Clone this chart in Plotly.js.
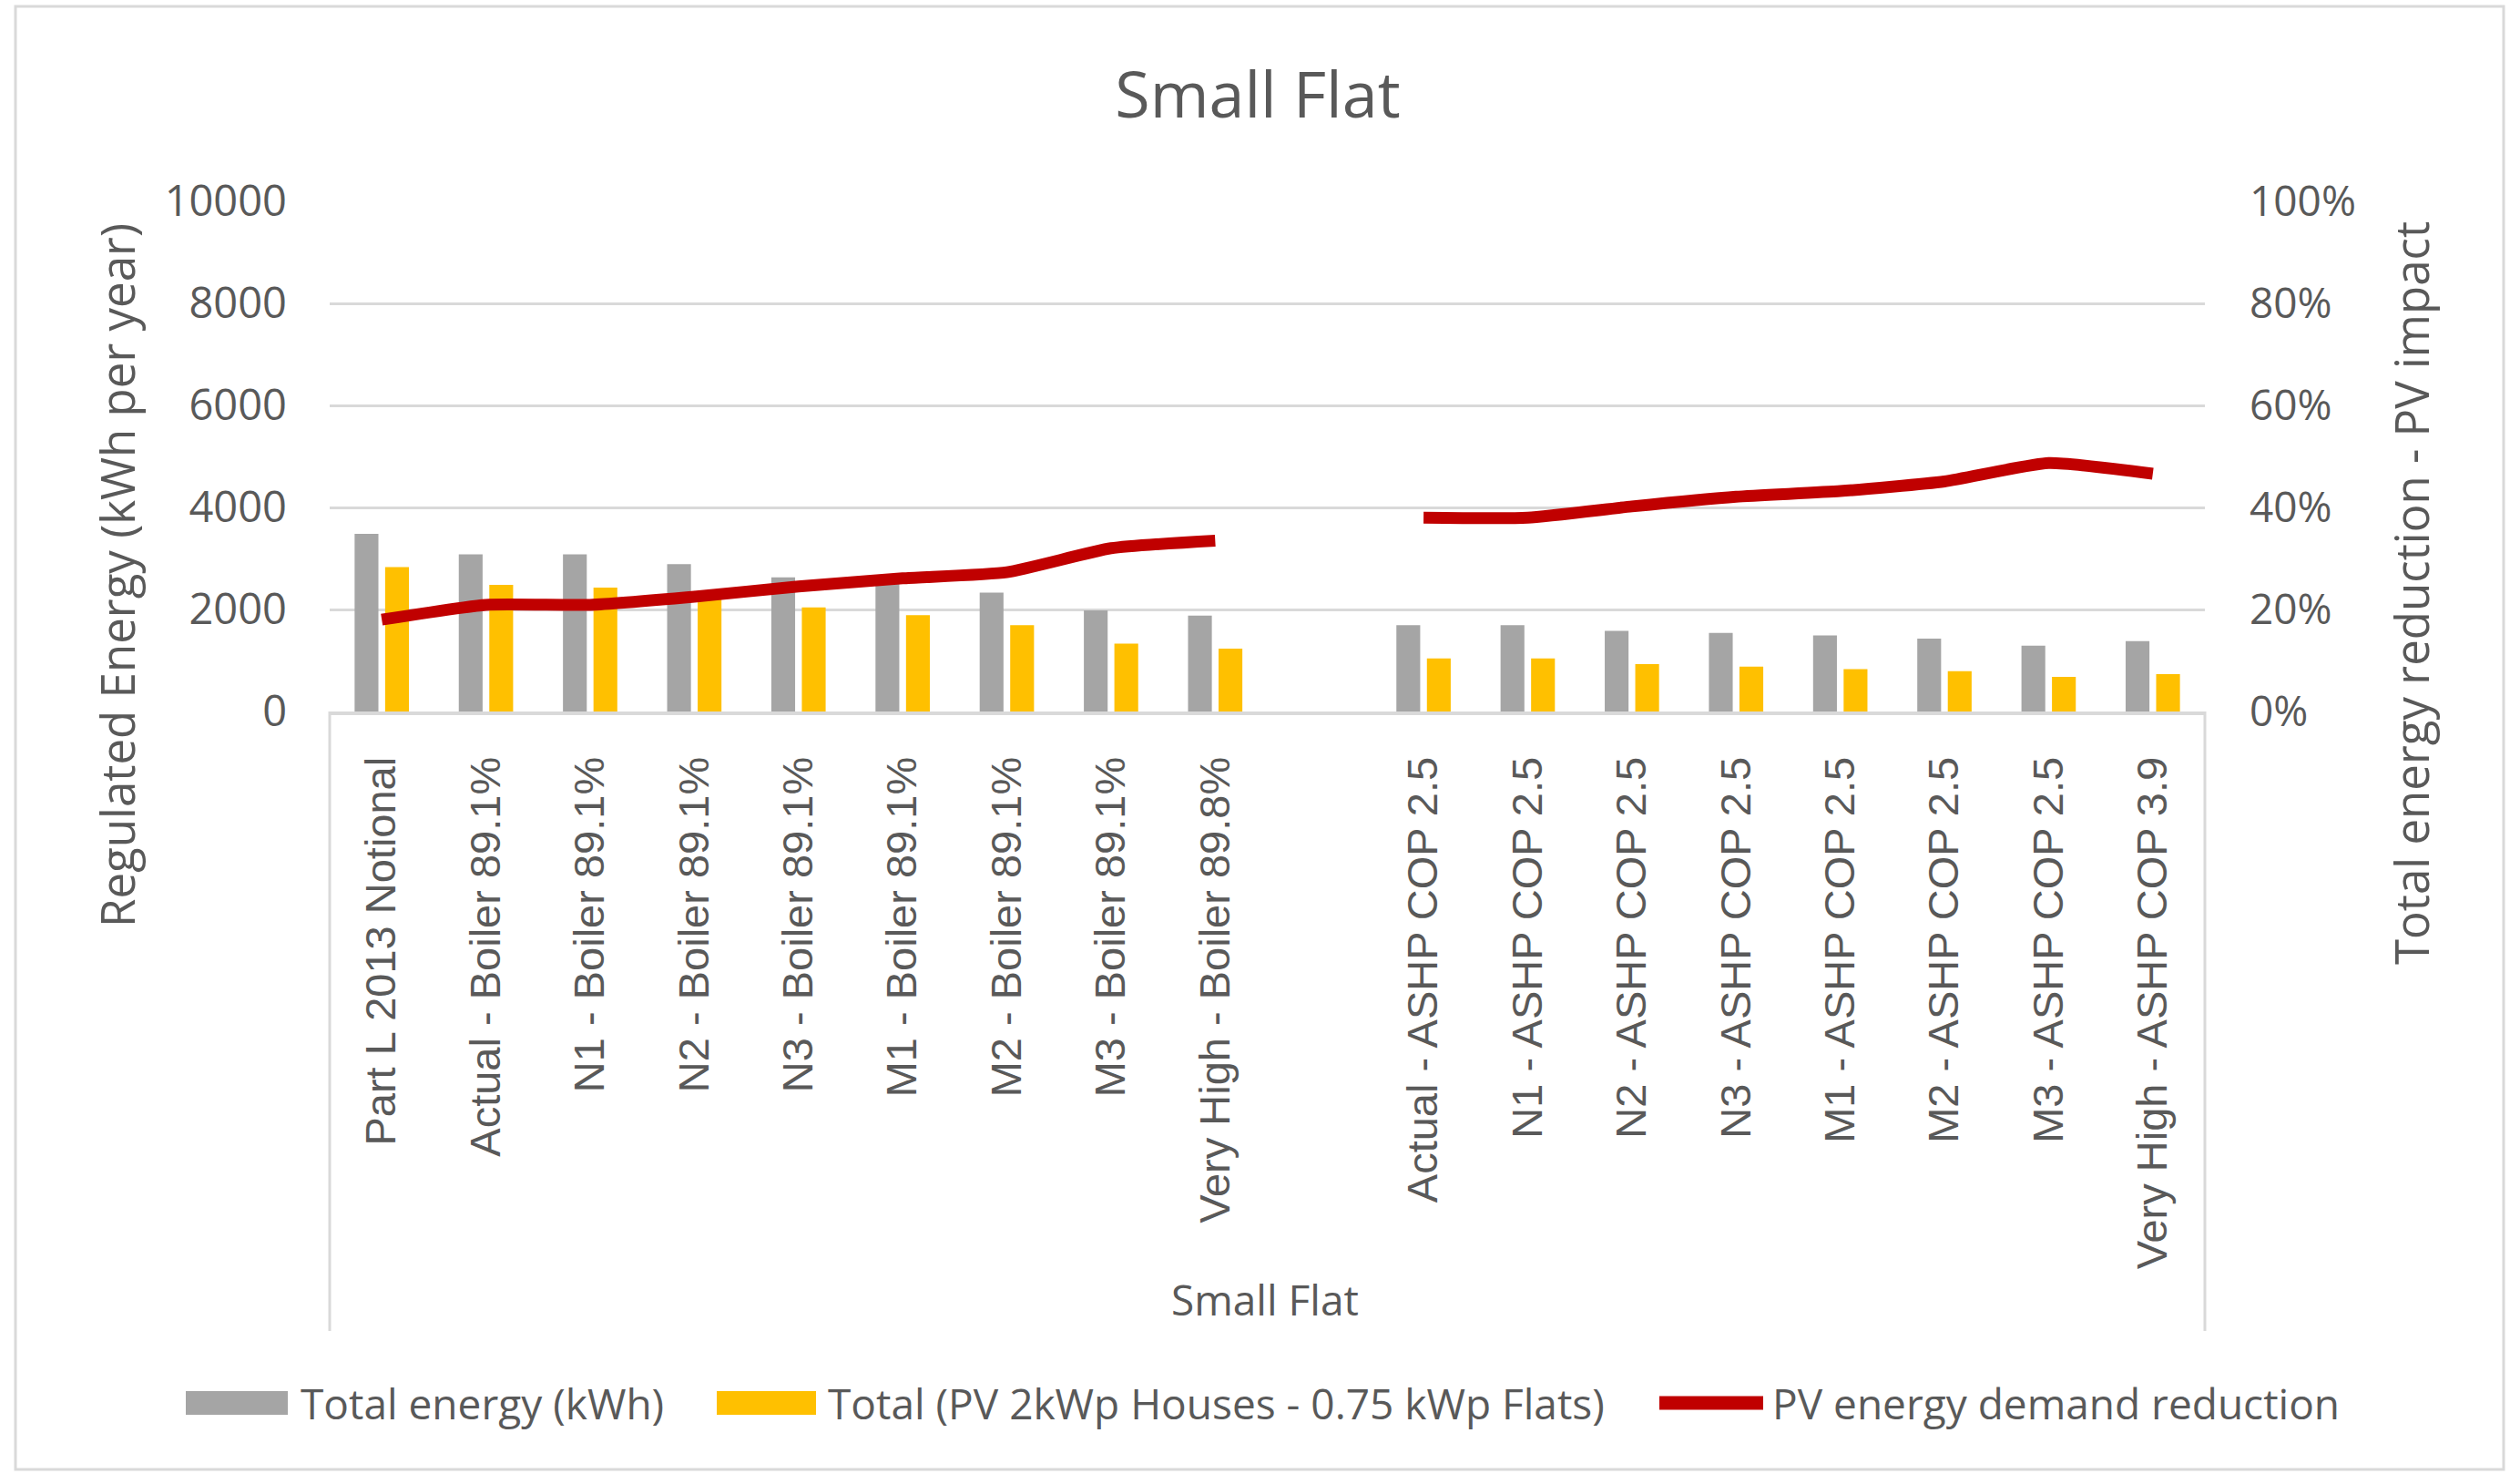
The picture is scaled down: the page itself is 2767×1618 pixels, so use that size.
<!DOCTYPE html>
<html>
<head>
<meta charset="utf-8">
<script src="https://cdn.plot.ly/plotly-3.0.1.min.js"></script>
<style>
html, body { margin: 0; padding: 0; background: #ffffff; }
#chart { width: 2767px; height: 1618px; }
</style>
</head>
<body>
<div id="chart"></div>
<script>
// ---- data ----
const categories = [
  "Part L 2013 Notional",
  "Actual - Boiler 89.1%",
  "N1 - Boiler 89.1%",
  "N2 - Boiler 89.1%",
  "N3 - Boiler 89.1%",
  "M1 - Boiler 89.1%",
  "M2 - Boiler 89.1%",
  "M3 - Boiler 89.1%",
  "Very High - Boiler 89.8%",
  " ",
  "Actual - ASHP COP 2.5",
  "N1 - ASHP COP 2.5",
  "N2 - ASHP COP 2.5",
  "N3 - ASHP COP 2.5",
  "M1 - ASHP COP 2.5",
  "M2 - ASHP COP 2.5",
  "M3 - ASHP COP 2.5",
  "Very High - ASHP COP 3.9"
];
const totalEnergy = [3480, 3080, 3080, 2890, 2630, 2540, 2330, 1980, 1880, null,
                     1690, 1690, 1580, 1540, 1490, 1430, 1290, 1380];
const totalWithPV = [2830, 2480, 2430, 2240, 2040, 1890, 1690, 1330, 1230, null,
                     1040, 1040, 930, 880, 830, 790, 680, 730];
const pvReduction = [0.180, 0.209, 0.209, 0.225, 0.245, 0.261, 0.273, 0.320, 0.335, null,
                     0.380, 0.380, 0.402, 0.421, 0.432, 0.451, 0.487, 0.466];
const seriesNames = ["Total energy (kWh)", "Total (PV 2kWp Houses - 0.75 kWp Flats)", "PV energy demand reduction"];
const leftTicks = [0, 2000, 4000, 6000, 8000, 10000];
const rightTicks = [0, 0.2, 0.4, 0.6, 0.8, 1.0];
const chartTitle = "Small Flat";
const groupLabel = "Small Flat";
const leftAxisTitle = "Regulated Energy (kWh per year)";
const rightAxisTitle = "Total energy reduction - PV impact";

// ---- styles ----
const GRAY = "#a5a5a5", GOLD = "#ffc000", RED = "#c00000";
const TXT = "#595959", GRID = "#d9d9d9";
const FONT = "Open Sans, Noto Sans, sans-serif";

const traces = [
  { type: "bar", name: seriesNames[0], x: categories, y: totalEnergy,
    marker: { color: GRAY }, showlegend: false, hoverinfo: "x+y" },
  { type: "bar", name: seriesNames[1], x: categories, y: totalWithPV,
    marker: { color: GOLD }, showlegend: false, hoverinfo: "x+y" },
  { type: "scatter", mode: "lines", name: seriesNames[2], x: categories, y: pvReduction,
    yaxis: "y2", connectgaps: false,
    line: { color: RED, width: 13, shape: "spline", smoothing: 0.5 },
    showlegend: false }
];

// pixel helpers for plot area (l=362, r=2421, t=221, b=781)
const PL = 362, PR = 2421, PT = 221, PB = 781;
const px = v => (v - PL) / (PR - PL);
const py = v => (PB - v) / (PB - PT);

const legendY = 1540;
const shapes = [
  // outer chart border
  { type: "rect", xref: "paper", yref: "paper", x0: px(17), x1: px(2749), y0: py(7), y1: py(1613),
    line: { color: GRID, width: 3 }, layer: "below" },
  // category group box verticals
  { type: "line", xref: "paper", yref: "paper", x0: 0, x1: 0, y0: 0, y1: py(1461),
    line: { color: GRID, width: 3 } },
  { type: "line", xref: "paper", yref: "paper", x0: 1, x1: 1, y0: 0, y1: py(1461),
    line: { color: GRID, width: 3 } },
  // legend swatches
  { type: "rect", xref: "paper", yref: "paper", x0: px(204), x1: px(316), y0: py(1527), y1: py(1553),
    fillcolor: GRAY, line: { width: 0 } },
  { type: "rect", xref: "paper", yref: "paper", x0: px(787), x1: px(896), y0: py(1527), y1: py(1553),
    fillcolor: GOLD, line: { width: 0 } },
  { type: "line", xref: "paper", yref: "paper", x0: px(1822), x1: px(1936), y0: py(legendY), y1: py(legendY),
    line: { color: RED, width: 15 } }
];

const annotations = [
  { xref: "paper", yref: "paper", x: px(1389), y: py(1426), text: groupLabel, showarrow: false,
    xanchor: "center", yanchor: "middle", font: { family: FONT, size: 46, color: TXT } },
  { xref: "paper", yref: "paper", x: px(128), y: py(632), text: leftAxisTitle, showarrow: false,
    textangle: -90, xanchor: "center", yanchor: "middle", font: { family: FONT, size: 51, color: TXT } },
  { xref: "paper", yref: "paper", x: px(2647), y: py(651), text: rightAxisTitle, showarrow: false,
    textangle: -90, xanchor: "center", yanchor: "middle", font: { family: FONT, size: 51, color: TXT } },
  { xref: "paper", yref: "paper", x: px(328), y: py(legendY), text: seriesNames[0], showarrow: false,
    xanchor: "left", yanchor: "middle", font: { family: FONT, size: 46, color: TXT } },
  { xref: "paper", yref: "paper", x: px(907), y: py(legendY), text: seriesNames[1], showarrow: false,
    xanchor: "left", yanchor: "middle", font: { family: FONT, size: 46, color: TXT } },
  { xref: "paper", yref: "paper", x: px(1944), y: py(legendY), text: seriesNames[2], showarrow: false,
    xanchor: "left", yanchor: "middle", font: { family: FONT, size: 46, color: TXT } }
];

const layout = {
  width: 2767, height: 1618,
  margin: { l: PL, r: 2767 - PR, t: PT, b: 1618 - PB, pad: 0 },
  paper_bgcolor: "#ffffff", plot_bgcolor: "#ffffff",
  title: { text: chartTitle, x: 1381 / 2767, xref: "container", xanchor: "center",
           y: 1 - 104 / 1618, yref: "container", yanchor: "middle",
           font: { family: FONT, size: 70, color: TXT } },
  barmode: "group", bargap: 0.414, bargroupgap: 0.22,
  showlegend: false,
  xaxis: {
    type: "category", categoryorder: "array", categoryarray: categories,
    tickangle: -90, ticks: "", showgrid: false, zeroline: false,
    showline: true, linecolor: GRID, linewidth: 4,
    ticklabelstandoff: 27,
    tickfont: { family: "Liberation Sans, Arial, sans-serif", size: 47, color: TXT },
    fixedrange: true
  },
  yaxis: {
    range: [0, 10000], tickvals: leftTicks, ticktext: leftTicks.map(String),
    showgrid: true, gridcolor: GRID, gridwidth: 3, zeroline: false, showline: false,
    ticks: "", ticklabelstandoff: 46,
    tickfont: { family: FONT, size: 47, color: TXT }, fixedrange: true
  },
  yaxis2: {
    overlaying: "y", side: "right", range: [0, 1],
    tickvals: rightTicks, ticktext: rightTicks.map(v => Math.round(v * 100) + "%"),
    showgrid: false, zeroline: false, showline: false, ticks: "", ticklabelstandoff: 48,
    tickfont: { family: FONT, size: 46, color: TXT }, fixedrange: true
  },
  shapes: shapes,
  annotations: annotations
};

Plotly.newPlot("chart", traces, layout, { displayModeBar: false, staticPlot: true });
</script>
</body>
</html>
